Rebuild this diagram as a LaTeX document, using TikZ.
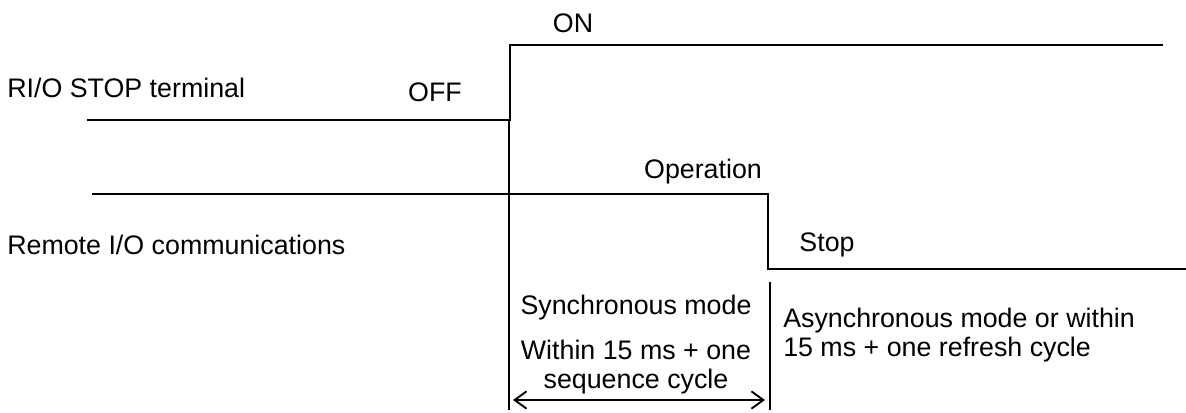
\documentclass[tikz,border=0pt]{standalone}
\usepackage{fontspec}
\setmainfont{Liberation Sans}
\usetikzlibrary{arrows.meta}
\begin{document}
\begin{tikzpicture}[x=0.75pt,y=-0.75pt,
  sig/.style={line width=1.6pt,line cap=butt,line join=miter},
  thin/.style={line width=0.8pt},
  lbl/.style={inner sep=0pt,font=\fontsize{20.1}{21.8}\selectfont},
  dim/.style={line width=1.4pt,{Straight Barb[length=9pt,width=13pt,line width=1.4pt]}-{Straight Barb[length=9pt,width=13pt,line width=1.4pt]}}]
\useasboundingbox (0,0) rectangle (1186,412);
% signal coordinates
\coordinate (a0) at (87,120);
\coordinate (a1) at (510,120);
\coordinate (a2) at (510,45);
\coordinate (a3) at (1163,45);
\coordinate (b0) at (92,194);
\coordinate (b1) at (768,194);
\coordinate (b2) at (768,269);
\coordinate (b3) at (1186,269);
\coordinate (t0) at (509,120);
\coordinate (t1) at (509,410);
\coordinate (u0) at (770,282);
\coordinate (u1) at (770,410);
\coordinate (d0) at (513,400);
\coordinate (d1) at (765,400);
% signals
\draw[sig] (a0) -- (a1) -- (a2) -- (a3);
\draw[sig] (b0) -- (b1) -- (b2) -- (b3);
\draw[thin] (t0) -- (t1);
\draw[thin] (u0) -- (u1);
\draw[dim] (d0) -- (d1);
% labels
\node[lbl,anchor=west] (rio) at (7,88) {RI/O STOP terminal};
\node[lbl] (off) at (435,92) {OFF};
\node[lbl] (on) at (573,23) {ON};
\node[lbl] (op) at (703,172) {Operation};
\node[lbl] (stop) at (827,245) {Stop};
\node[lbl,anchor=west] (rem) at (7,245) {Remote I/O communications};
\node[lbl] (sync) at (636,308) {Synchronous mode};
\node[lbl,align=center] (within) at (636,367) {Within 15 ms + one\\sequence cycle};
\node[lbl,align=left,anchor=west] (async) at (783,335) {Asynchronous mode or within\\15 ms + one refresh cycle};
\end{tikzpicture}
\end{document}
